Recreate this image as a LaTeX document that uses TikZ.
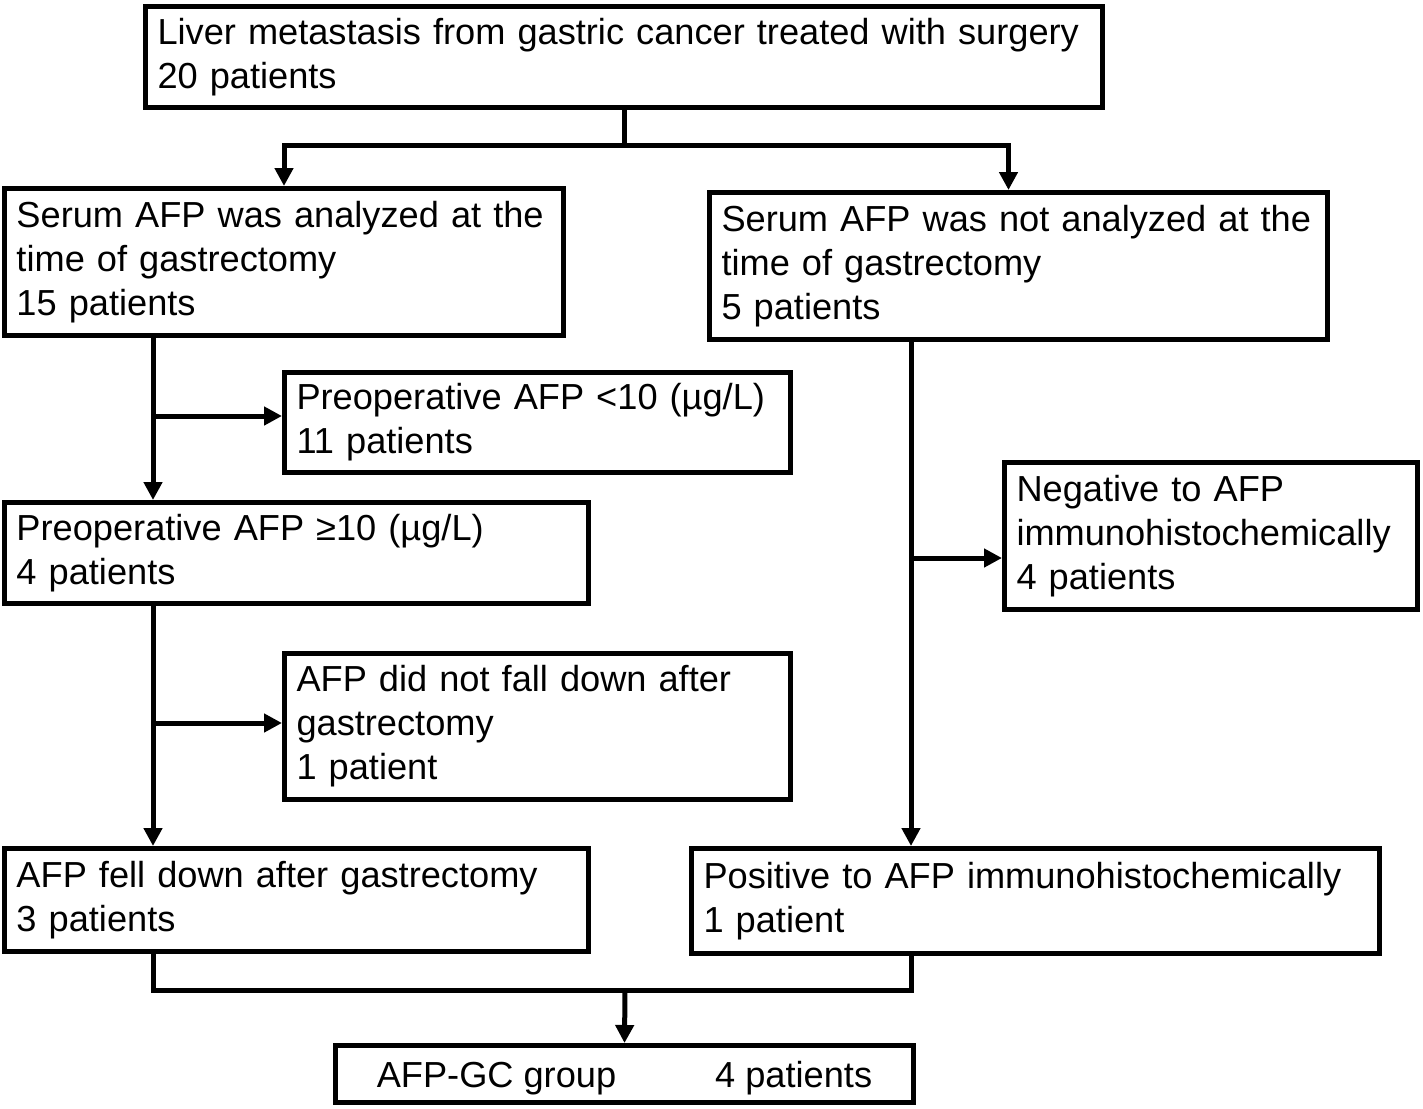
\documentclass[tikz,border=0pt]{standalone}
\usepackage{fontspec}
\setmainfont{Liberation Sans}
\usepackage{tikz}
\usetikzlibrary{arrows.meta,positioning,calc}
\hyphenpenalty=10000
\exhyphenpenalty=10000

\begin{document}
\begin{tikzpicture}[x=0.5pt, y=-0.5pt, line width=2.5pt, line join=miter]
\tikzstyle{box}=[draw=black, line width=2.5pt, rectangle, inner xsep=6pt, inner ysep=2pt, align=left, font=\fontsize{18.1}{22}\selectfont]
\tikzstyle{arr}=[-{Triangle[length=9pt,width=9pt]}]
\useasboundingbox (0,0) rectangle (1423,1108);

\node[box, minimum width=478.5pt, minimum height=50.5pt, text width=466.5pt] (top) at (624,57)
  {Liver metastasis from gastric cancer treated with surgery\\20 patients};
\node[box, minimum width=279.5pt, minimum height=73.5pt, text width=267.5pt] (ana) at (284,262)
  {Serum AFP was analyzed at the\\time of gastrectomy\\15 patients};
\node[box, minimum width=309pt, minimum height=73.5pt, text width=297pt] (nan) at (1018.5,266)
  {Serum AFP was not analyzed at the\\time of gastrectomy\\5 patients};
\node[box, minimum width=253pt, minimum height=50pt, text width=241pt] (low) at (537.5,422.5)
  {Preoperative AFP <10 (µg/L)\\11 patients};
\node[box, minimum width=292pt, minimum height=50.5pt, text width=280pt] (high) at (296.5,553)
  {Preoperative AFP ≥10 (µg/L)\\4 patients};
\node[box, minimum width=253pt, minimum height=73pt, text width=241pt] (nofall) at (537.5,726.5)
  {AFP did not fall down after\\gastrectomy\\1 patient};
\node[box, minimum width=292pt, minimum height=51.5pt, text width=280pt] (fell) at (296.5,900)
  {AFP fell down after gastrectomy\\3 patients};
\node[box, minimum width=206.5pt, minimum height=73.5pt, text width=194.5pt] (neg) at (1211,536)
  {Negative to AFP\\immunohistochemically\\4 patients};
\node[box, minimum width=344pt, minimum height=52.5pt, text width=332pt] (pos) at (1035.5,901)
  {Positive to AFP immunohistochemically\\1 patient};
\node[box, minimum width=289pt, minimum height=28.5pt, align=center, text depth=0pt] (grp) at (624.5,1074)
  {AFP-GC group\hspace{49.5pt}4 patients};

% split points
\coordinate (s) at (624,145);
\coordinate (b1) at (153,416);
\coordinate (b2) at (153,723);
\coordinate (b3) at (911,558);
\coordinate (m) at (625,990);

\draw (top.south) -- (s);
\draw[arr] (s) -| (ana.north);
\draw[arr] (s) -| ([xshift=-5pt]nan.north);

\draw[arr] (ana.south -| b1) -- (high.north -| b1);
\draw[arr] (b1) -- (b1 -| low.west);
\draw[arr] (high.south -| b2) -- (fell.north -| b2);
\draw[arr] (b2) -- (b2 -| nofall.west);
\draw[arr] (nan.south -| b3) -- (pos.north -| b3);
\draw[arr] (b3) -- (b3 -| neg.west);

\draw (fell.south -| b2) |- (m) -| (pos.south -| b3);
\draw[arr] (m) -- (grp.north);
\end{tikzpicture}
\end{document}
